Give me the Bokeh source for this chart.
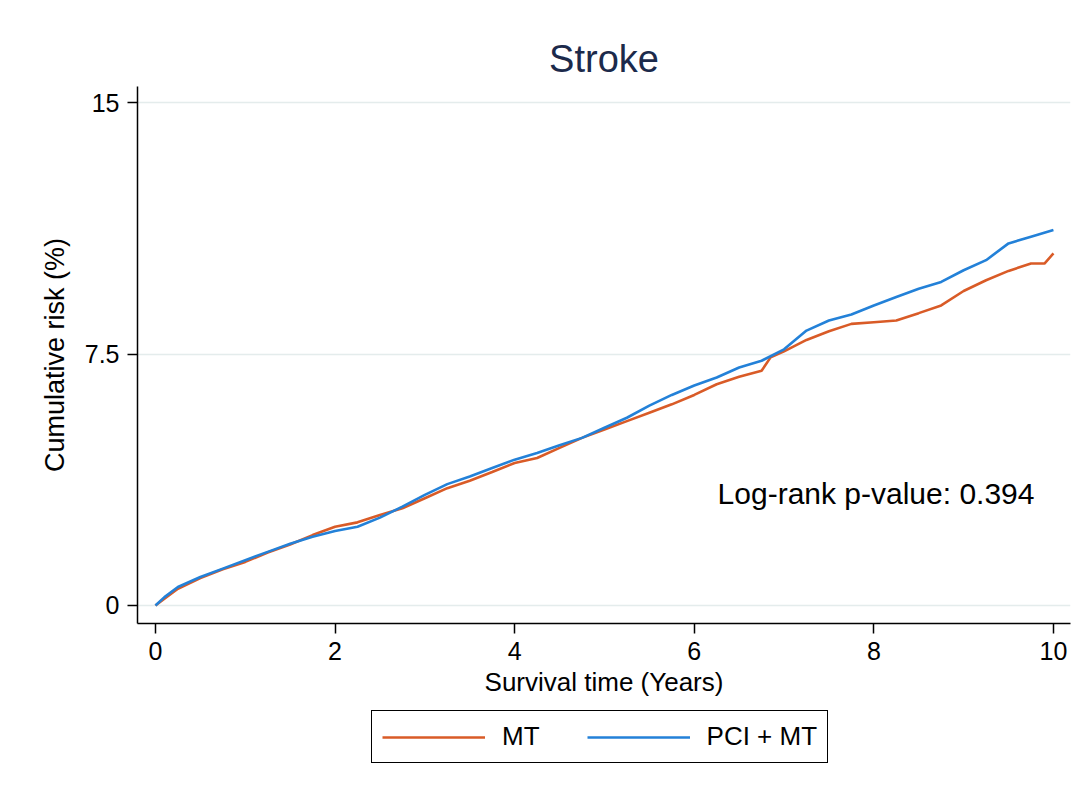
from bokeh.plotting import figure
from bokeh.models import (Range1d, FixedTicker, Legend, LegendItem, Label)
from bokeh.layouts import column
from bokeh.embed import file_html
from bokeh.resources import INLINE

# ---- data (years, cumulative risk %) ----
mt_time = [0, 0.1, 0.25, 0.5, 0.75, 1.0, 1.25, 1.5, 1.75, 2.0, 2.25, 2.5, 2.75,
           3.0, 3.25, 3.5, 3.75, 4.0, 4.25, 4.5, 4.75, 5.0, 5.25, 5.5, 5.75,
           6.0, 6.25, 6.5, 6.75, 6.85, 7.0, 7.25, 7.5, 7.75, 8.0, 8.25, 8.5,
           8.75, 9.0, 9.25, 9.5, 9.75, 9.9, 10.0]
mt_risk = [0, 0.2, 0.5, 0.82, 1.08, 1.3, 1.58, 1.82, 2.1, 2.35, 2.48, 2.7, 2.9,
           3.2, 3.5, 3.72, 3.98, 4.25, 4.4, 4.7, 5.0, 5.25, 5.5, 5.75, 6.0,
           6.28, 6.6, 6.82, 7.0, 7.4, 7.58, 7.92, 8.18, 8.4, 8.45, 8.5, 8.72,
           8.95, 9.38, 9.7, 9.98, 10.2, 10.2, 10.5]

pci_time = [0, 0.1, 0.25, 0.5, 0.75, 1.0, 1.25, 1.5, 1.75, 2.0, 2.25, 2.5, 2.75,
            3.0, 3.25, 3.5, 3.75, 4.0, 4.25, 4.5, 4.75, 5.0, 5.25, 5.5, 5.75,
            6.0, 6.25, 6.5, 6.75, 7.0, 7.25, 7.5, 7.75, 8.0, 8.25, 8.5, 8.75,
            9.0, 9.25, 9.5, 9.75, 10.0]
pci_risk = [0, 0.25, 0.55, 0.85, 1.1, 1.35, 1.6, 1.84, 2.05, 2.22, 2.35, 2.62, 2.95,
            3.3, 3.62, 3.85, 4.1, 4.35, 4.55, 4.78, 5.0, 5.3, 5.6, 5.96, 6.28,
            6.56, 6.8, 7.1, 7.3, 7.64, 8.2, 8.5, 8.68, 8.95, 9.2, 9.45, 9.65,
            10.0, 10.3, 10.8, 11.0, 11.2]

x_ticks = [0, 2, 4, 6, 8, 10]
y_ticks = [0, 7.5, 15]
y_tick_labels = ["0", "7.5", "15"]
series_names = ["MT", "PCI + MT"]

FONT = "Liberation Sans"
MT_COLOR = "#d95b27"
PCI_COLOR = "#2381d8"
X_RANGE = (-0.2, 10.19)

# ---------------- main chart ----------------
p = figure(width=1073, height=708,
           x_range=Range1d(*X_RANGE), y_range=Range1d(-0.537, 15.48),
           output_backend="svg", toolbar_location=None,
           min_border_left=137, min_border_right=3,
           min_border_top=86, min_border_bottom=85)

p.outline_line_color = None
p.background_fill_color = "white"
p.border_fill_color = "white"

p.title.text = "Stroke"
p.title.align = "center"
p.title.text_font = FONT
p.title.text_font_size = "38px"
p.title.text_font_style = "normal"
p.title.text_color = "#1c2a4b"
p.title.standoff = 14

for ax in (p.xaxis[0], p.yaxis[0]):
    ax.axis_line_width = 1.5
    ax.axis_line_color = "black"
    ax.major_tick_line_width = 1.5
    ax.major_tick_out = 10
    ax.major_tick_in = 0
    ax.minor_tick_line_color = None
    ax.major_label_text_font = FONT
    ax.major_label_text_font_size = "25px"
    ax.major_label_text_color = "black"

p.xaxis.ticker = FixedTicker(ticks=x_ticks)
p.xaxis.major_label_standoff = 8
p.xaxis.axis_label = "Survival time (Years)"
p.xaxis.axis_label_text_font = FONT
p.xaxis.axis_label_text_font_size = "26px"
p.xaxis.axis_label_text_font_style = "normal"
p.xaxis.axis_label_text_color = "black"
p.xaxis.axis_label_standoff = 4

p.yaxis.ticker = FixedTicker(ticks=y_ticks)
p.yaxis.major_label_overrides = {t: l for t, l in zip(y_ticks, y_tick_labels)}
p.yaxis.major_label_standoff = 8
p.yaxis.axis_label = "Cumulative risk (%)"
p.yaxis.axis_label_text_font = FONT
p.yaxis.axis_label_text_font_size = "27px"
p.yaxis.axis_label_text_font_style = "normal"
p.yaxis.axis_label_text_color = "black"
p.yaxis.axis_label_standoff = 12

p.xgrid.visible = False
p.ygrid.grid_line_color = "#e4ecec"
p.ygrid.grid_line_width = 1.5

p.line(mt_time, mt_risk, line_color=MT_COLOR, line_width=2.6)
p.line(pci_time, pci_risk, line_color=PCI_COLOR, line_width=2.6)

p.add_layout(Label(x=6.26, y=3.34, text="Log-rank p-value: 0.394",
                   text_align="left", text_baseline="alphabetic",
                   text_font=FONT, text_font_size="30px", text_color="black"))

# ---------------- legend strip ----------------
p2 = figure(width=1073, height=70,
            x_range=Range1d(*X_RANGE), y_range=Range1d(20, 21),
            output_backend="svg", toolbar_location=None,
            x_axis_location=None, y_axis_location=None,
            min_border_left=137, min_border_right=3,
            min_border_top=0, min_border_bottom=0)
p2.outline_line_color = None
p2.xgrid.visible = False
p2.ygrid.visible = False
p2.background_fill_color = "white"
p2.border_fill_color = "white"

l_mt = p2.line(mt_time, mt_risk, line_color=MT_COLOR, line_width=2.6)
l_pci = p2.line(pci_time, pci_risk, line_color=PCI_COLOR, line_width=2.6)

legend = Legend(items=[LegendItem(label=series_names[0], renderers=[l_mt]),
                       LegendItem(label=series_names[1], renderers=[l_pci])],
                orientation="horizontal", location=(234, 15))
legend.label_text_font = FONT
legend.label_text_font_size = "26px"
legend.label_text_color = "black"
legend.glyph_width = 103
legend.glyph_height = 26
legend.label_height = 26
legend.label_standoff = 17
legend.spacing = 47
legend.padding = 10
legend.margin = 0
legend.border_line_color = "black"
legend.border_line_alpha = 1.0
legend.border_line_width = 1.5
legend.background_fill_color = "white"
legend.background_fill_alpha = 1.0
p2.add_layout(legend, "center")

open("out.html", "w").write(file_html(column(p, p2, spacing=0), INLINE))
